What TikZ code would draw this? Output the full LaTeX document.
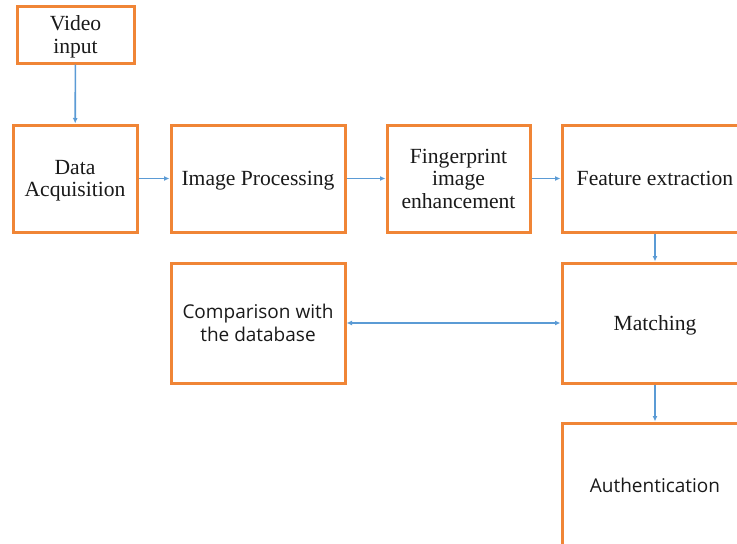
\documentclass[tikz,border=0pt]{standalone}
\usepackage{fontspec}
\setmainfont{Liberation Serif}
\newfontfamily\boxsans{Open Sans}
\usetikzlibrary{arrows.meta}
\definecolor{boxorange}{HTML}{F08536}
\definecolor{arrowblue}{HTML}{5B9BD5}
\definecolor{txt}{HTML}{1A1A1A}
\tikzset{
  stepbox/.style={draw=boxorange, line width=3pt, fill=white, align=center, text=txt,
    font=\fontsize{21.6}{22.5}\selectfont, inner sep=0pt, text depth=0pt},
  sansbox/.style={stepbox, font=\boxsans\fontsize{19}{23}\selectfont, text depth=},
  flow/.style={draw=arrowblue, line width=1.6pt, -{Latex[length=5.5pt,width=5pt]}},
  flow2/.style={draw=arrowblue, line width=1.6pt, {Latex[length=5.5pt,width=5pt]}-{Latex[length=5.5pt,width=5pt]}}
}
\begin{document}
\begin{tikzpicture}[x=1pt,y=-1pt]
\useasboundingbox (0,0) rectangle (737,544);
\clip (0,0) rectangle (737,544);
\fill[white] (0,0) rectangle (737,544);
\node[stepbox, minimum width=117pt, minimum height=57pt] (video) at (75.5,34.5) {Video\\input};
\node[stepbox, minimum width=124pt, minimum height=107pt] (acq) at (75,178.5) {Data\\Acquisition};
\node[stepbox, minimum width=174pt, minimum height=107pt] (proc) at (258,178.5) {Image Processing};
\node[stepbox, minimum width=143pt, minimum height=107pt] (enh) at (458.5,178.5) {Fingerprint\\image\\enhancement};
\node[stepbox, minimum width=186pt, minimum height=107pt] (feat) at (655,178.5) {Feature extraction};
\node[stepbox, minimum width=186pt, minimum height=120pt] (match) at (655,323) {Matching};
\node[sansbox, minimum width=174pt, minimum height=120pt] (comp) at (258,323) {Comparison with\\the database};
\node[sansbox, minimum width=186pt, minimum height=124pt] (auth) at (655,485) {Authentication};
\draw[flow] (video) -- (acq);
\draw[flow] (acq) -- (proc);
\draw[flow] (proc) -- (enh);
\draw[flow] (enh) -- (feat);
\draw[flow] (feat) -- (match);
\draw[flow] (match) -- (auth);
\draw[flow2] (comp) -- (match);
\end{tikzpicture}
\end{document}
